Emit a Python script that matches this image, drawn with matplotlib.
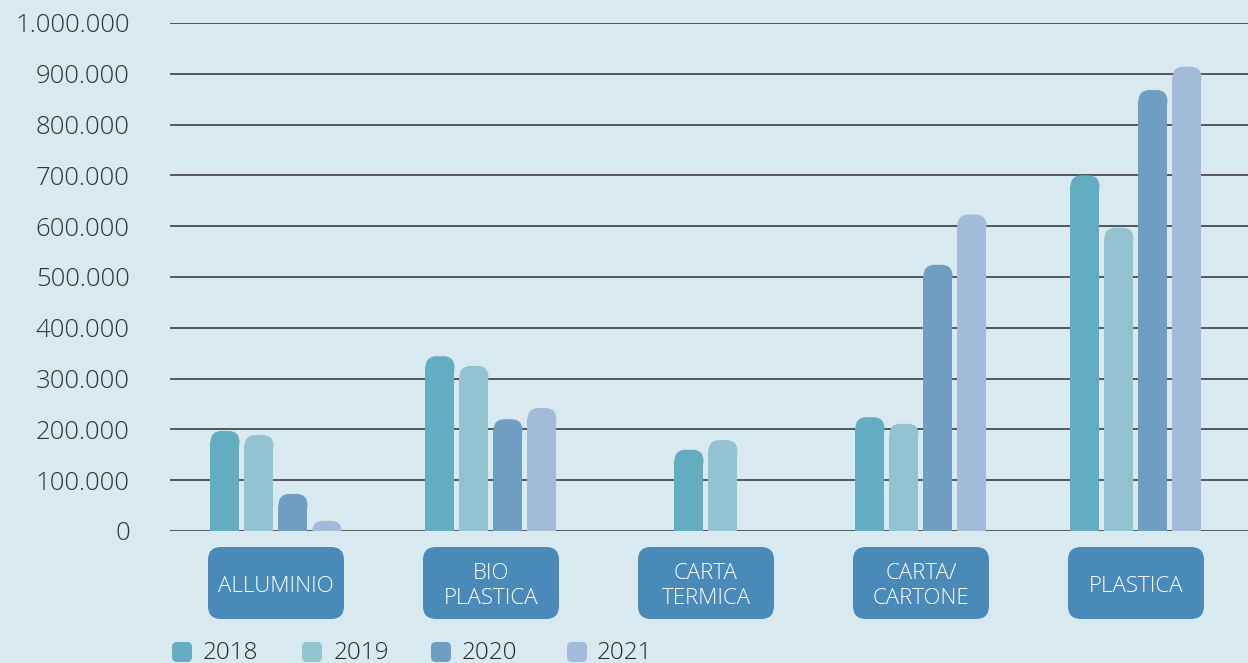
import numpy as np
import matplotlib
matplotlib.use("Agg")
import matplotlib.pyplot as plt
from matplotlib.patches import FancyBboxPatch, Rectangle
from matplotlib.transforms import IdentityTransform

categories = ["ALLUMINIO", "BIO\nPLASTICA", "CARTA\nTERMICA", "CARTA/\nCARTONE", "PLASTICA"]
years = ["2018", "2019", "2020", "2021"]
v2018 = [197000, 344000, 160000, 224000, 700000]
v2019 = [189000, 325000, 179000, 211000, 597000]
v2020 = [73000, 220000, np.nan, 524000, 868000]
v2021 = [20000, 242000, np.nan, 623000, 914000]
series = [v2018, v2019, v2020, v2021]
colors = ["#63adc2", "#93c3d0", "#6e9fc3", "#a1bbd8"]
yticks = [0, 100000, 200000, 300000, 400000, 500000, 600000, 700000, 800000, 900000, 1000000]

BG = "#d9e9f0"
BOX = "#4a8ab8"
W, H = 1248, 663
DPI = 100
FW = 'light'

plt.rcParams['font.family'] = ['Open Sans', 'DejaVu Sans']

fig = plt.figure(figsize=(W / DPI, H / DPI), dpi=DPI, facecolor=BG)
ax = fig.add_axes([170 / W, (H - 531) / H, 1 - 170 / W, (531 - 23) / H])
ax.set_facecolor(BG)
ax.set_xlim(-0.493, 4.521)
ax.set_ylim(0, 1000000)

for s in ax.spines.values():
    s.set_visible(False)
ax.set_yticks(yticks)
ax.set_yticklabels([f"{t:,}".replace(",", ".") for t in yticks])
ax.tick_params(axis='y', length=0, pad=29, labelsize=18.5, labelcolor="#333333")
for lab in ax.get_yticklabels():
    lab.set_fontweight(FW)
ax.set_xticks([])
ax.grid(axis='y', color="#4a4a4a", linewidth=1.3)
ax.set_axisbelow(True)

bw = 29 / 215
step = 34 / 215
px_x = 1 / 215
px_y = 1000000 / 508
aspect = px_y / px_x
r0 = 11 * px_x

for ci in range(len(categories)):
    present = [k for k in range(4) if not np.isnan(series[k][ci])]
    n = len(present)
    for j, k in enumerate(present):
        xc = ci + (j - (n - 1) / 2) * step
        val = series[k][ci]
        b = ax.bar(xc, val, width=bw, color=colors[k], zorder=3)[0]
        b.set_visible(False)
        x0, y0, w, h = b.get_x(), b.get_y(), b.get_width(), b.get_height()
        r = min(r0, h / aspect * 0.999)
        ry = r * aspect
        top = FancyBboxPatch((x0, y0 + h - 2 * ry), w, 2 * ry,
                             boxstyle=f"round,pad=0,rounding_size={r}",
                             mutation_aspect=aspect, facecolor=colors[k], edgecolor='none', zorder=3)
        ax.add_patch(top)
        ax.add_patch(Rectangle((x0, y0), w, max(h - ry, 0), facecolor=colors[k],
                               edgecolor='none', zorder=3))

# category boxes (pixel coordinates)
fig.canvas.draw()
for ci, cat in enumerate(categories):
    cx = ax.transData.transform((ci, 0))[0]
    bx0, bwid = cx - 68, 136
    by_top = 547
    bh = 72
    patch = FancyBboxPatch((bx0, H - by_top - bh), bwid, bh,
                           boxstyle="round,pad=0,rounding_size=13",
                           transform=IdentityTransform(), facecolor=BOX, edgecolor='none')
    fig.patches.append(patch)
    fig.text(cx / W, (H - 586) / H, cat, ha='center', va='center', color='white',
             fontsize=16, fontweight=FW, linespacing=1.2)

# legend
mark_x = [172, 302, 431, 567]
text_x = [203, 334, 462, 597]
for k, yr in enumerate(years):
    p = FancyBboxPatch((mark_x[k], H - 662), 20, 20, boxstyle="round,pad=0,rounding_size=5",
                       transform=IdentityTransform(), facecolor=colors[k], edgecolor='none')
    fig.patches.append(p)
    fig.text(text_x[k] / W, (H - 653) / H, yr, ha='left', va='center', color="#2a2a2a",
             fontsize=17.5, fontweight=FW)

fig.savefig("out.png", dpi=DPI, facecolor=BG)
